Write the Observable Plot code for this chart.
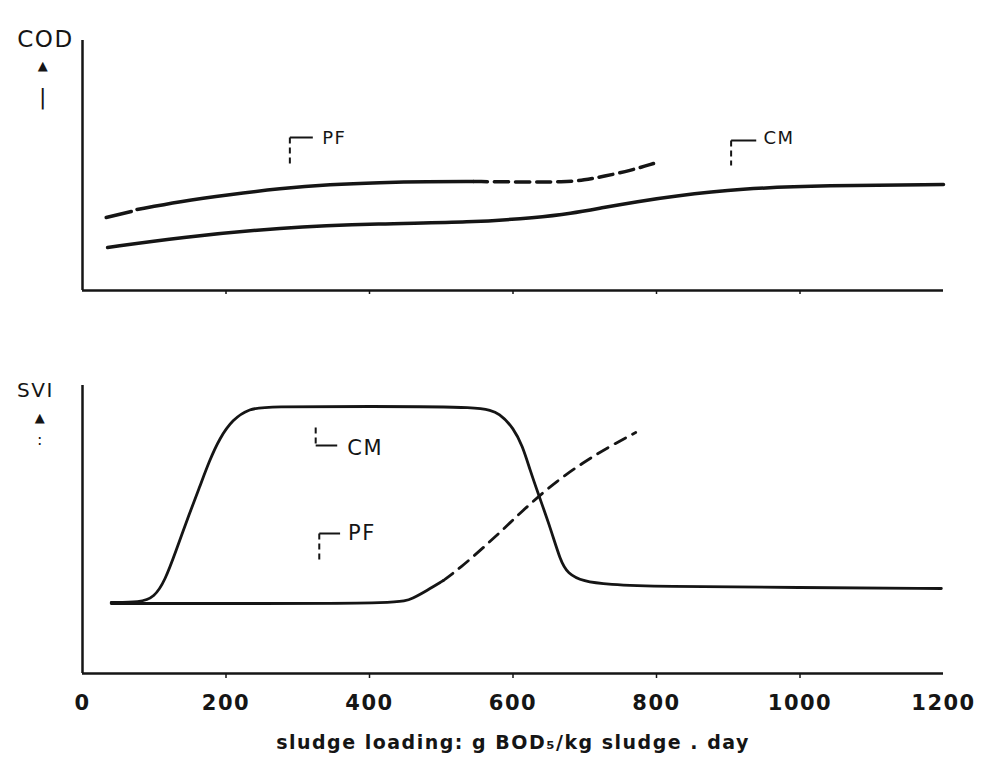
<!DOCTYPE html>
<html><head><meta charset="utf-8">
<script src="https://cdn.jsdelivr.net/npm/d3@7"></script>
<script src="https://cdn.jsdelivr.net/npm/@observablehq/plot@0.6"></script>
<style>
html,body{margin:0;padding:0;background:#fff;}
#chart{width:982px;}
#chart svg{display:block;}
#chart svg text{letter-spacing:1.5px;}
</style></head><body><div id="chart"></div>
<script>
// ---- x axis ----
const xTickMarks = [200, 400, 600, 800, 1000];
const xTickLabels = [0, 200, 400, 600, 800, 1000, 1200];
const xTitle = "sludge loading: g BOD₅/kg sludge . day";

// ---- top panel: COD (relative units) ----
const codPfLeadX = [33, 68];
const codPfLeadY = [73, 79];
const codPfSolidX = [76, 135, 205, 275, 345, 415, 480, 545];
const codPfSolidY = [81, 89, 96, 102, 106, 108, 109, 109];
const codPfDashX = [545, 610, 673, 699, 726, 764, 796];
const codPfDashY = [109, 108.5, 108.5, 110.5, 114, 120, 127];
const codCmX = [35, 135, 275, 415, 541, 634, 680, 726, 774, 820, 918, 1034, 1200];
const codCmY = [43, 53, 63, 67, 68, 73, 77, 83, 89, 94, 102, 105, 106];

const codLabelText = ["PF", "CM"];
const codLabelX = [334, 949];
const codLabelY = [152, 152];
const codBracketX1 = [289, 904];
const codBracketX2 = [321, 939];
const codBracketTop = [153, 150];
const codBracketBottom = [125, 125];

// ---- bottom panel: SVI (relative units) ----
const sviCmX = [40, 80, 100, 115, 130, 149, 163, 177, 191, 209, 233, 257, 400, 559, 582, 601, 613, 624, 635, 652, 666, 676, 698, 732, 802, 1000, 1197];
const sviCmY = [71, 71, 76, 93, 122, 160, 186, 213, 235, 254, 265, 267, 267, 267, 260, 245, 228, 203, 180, 146, 113, 100, 92, 89, 87, 86, 85];
const sviPfSolidX = [40, 250, 443, 460, 480, 503];
const sviPfSolidY = [70, 70, 70, 75, 83, 93];
const sviPfDashX = [503, 527, 559, 592, 624, 662, 698, 732, 771];
const sviPfDashY = [93, 106, 126, 148, 170, 193, 211, 226, 241];

const sviLabelText = ["CM", "PF"];
const sviLabelX = [369, 370];
const sviLabelY = [225, 140];
// brackets: horizontal at hY from x1..x2, vertical at x1 from vY1..vY2
const sviBracketX1 = [325, 330];
const sviBracketX2 = [355, 359];
const sviBracketH = [228, 140];
const sviBracketV1 = [246, 140];
const sviBracketV2 = [228, 111];

const pts = (xs, ys) => xs.map((x, i) => ({x, y: ys[i]}));
const INK = "#151515";
const FONT = "'DejaVu Sans', sans-serif";
const CURVE = "basis";

const codLabels = codLabelText.map((t, i) => ({t, x: codLabelX[i], y: codLabelY[i],
  x1: codBracketX1[i], x2: codBracketX2[i], top: codBracketTop[i], bot: codBracketBottom[i]}));
const sviLabels = sviLabelText.map((t, i) => ({t, x: sviLabelX[i], y: sviLabelY[i],
  x1: sviBracketX1[i], x2: sviBracketX2[i], h: sviBracketH[i], v1: sviBracketV1[i], v2: sviBracketV2[i]}));

const codPlot = Plot.plot({
  width: 982, height: 330,
  marginLeft: 82, marginRight: 39, marginTop: 40, marginBottom: 40,
  x: {domain: [0, 1200], axis: null},
  y: {domain: [0, 250], axis: null},
  style: {fontFamily: FONT, fontSize: "20px", color: INK, background: "#fff"},
  marks: [
    Plot.ruleY([0], {stroke: INK, strokeWidth: 2.5}),
    Plot.ruleX([0], {stroke: INK, strokeWidth: 2.5}),
    Plot.axisX(xTickMarks, {tickSize: 4, tickFormat: () => "", stroke: INK, strokeWidth: 1.5, label: null}),
    Plot.line(pts(codPfLeadX, codPfLeadY), {x: "x", y: "y", stroke: INK, strokeWidth: 3.5, strokeLinecap: "round"}),
    Plot.line(pts(codPfSolidX, codPfSolidY), {x: "x", y: "y", curve: CURVE, stroke: INK, strokeWidth: 3.5}),
    Plot.line(pts(codPfDashX, codPfDashY), {x: "x", y: "y", curve: CURVE, stroke: INK, strokeWidth: 3.5, strokeDasharray: "14,7"}),
    Plot.line(pts(codCmX, codCmY), {x: "x", y: "y", curve: CURVE, stroke: INK, strokeWidth: 3.5}),
    Plot.link(codLabels, {x1: "x1", x2: "x2", y1: "top", y2: "top", stroke: INK, strokeWidth: 2}),
    Plot.link(codLabels, {x1: "x1", x2: "x1", y1: "top", y2: "bot", stroke: INK, strokeWidth: 2, strokeDasharray: "6,4"}),
    Plot.text(codLabels, {x: "x", y: "y", text: "t", textAnchor: "start", fontSize: 18, fill: INK}),
    Plot.text(["COD"], {frameAnchor: "top-left", dx: -37, dy: -10, fontSize: 23, textAnchor: "middle", fill: INK}),
    Plot.text(["▲"], {frameAnchor: "top-left", dx: -39, dy: 20, fontSize: 13, textAnchor: "middle", fill: INK}),
    Plot.text(["|"], {frameAnchor: "top-left", dx: -39, dy: 48, fontSize: 22, textAnchor: "middle", fill: INK})
  ]
});

const sviPlot = Plot.plot({
  width: 982, height: 446,
  marginLeft: 82, marginRight: 39, marginTop: 55, marginBottom: 103,
  x: {domain: [0, 1200], axis: null},
  y: {domain: [0, 288], axis: null},
  style: {fontFamily: FONT, fontSize: "20px", color: INK, background: "#fff"},
  marks: [
    Plot.ruleY([0], {stroke: INK, strokeWidth: 2.5}),
    Plot.ruleX([0], {stroke: INK, strokeWidth: 2.5}),
    Plot.axisX(xTickMarks, {tickSize: 5, tickFormat: () => "", stroke: INK, strokeWidth: 1.5, label: null}),
    Plot.axisX(xTickLabels, {tickSize: 0, tickPadding: 22, tickFormat: d => String(d), fontSize: 21, fontWeight: "bold", fill: INK, label: null}),
    Plot.line(pts(sviCmX, sviCmY), {x: "x", y: "y", curve: CURVE, stroke: INK, strokeWidth: 2.8}),
    Plot.line(pts(sviPfSolidX, sviPfSolidY), {x: "x", y: "y", curve: CURVE, stroke: INK, strokeWidth: 2.8}),
    Plot.line(pts(sviPfDashX, sviPfDashY), {x: "x", y: "y", curve: CURVE, stroke: INK, strokeWidth: 2.8, strokeDasharray: "12,8"}),
    Plot.link(sviLabels, {x1: "x1", x2: "x2", y1: "h", y2: "h", stroke: INK, strokeWidth: 2}),
    Plot.link(sviLabels, {x1: "x1", x2: "x1", y1: "v1", y2: "v2", stroke: INK, strokeWidth: 2, strokeDasharray: "6,4"}),
    Plot.text(sviLabels, {x: "x", y: "y", text: "t", textAnchor: "start", fontSize: 21, fill: INK}),
    Plot.text(["SVI"], {frameAnchor: "top-left", dx: -47, dy: -3, fontSize: 20, textAnchor: "middle", fill: INK}),
    Plot.text(["▲"], {frameAnchor: "top-left", dx: -42, dy: 27, fontSize: 13, textAnchor: "middle", fill: INK}),
    Plot.text([":"], {frameAnchor: "top-left", dx: -42, dy: 48, fontSize: 16, textAnchor: "middle", fill: INK}),
    Plot.text([xTitle], {frameAnchor: "bottom", dy: 75, fontSize: 19, fontWeight: "bold", fill: INK})
  ]
});

document.getElementById("chart").append(codPlot, sviPlot);
</script>
</body></html>
